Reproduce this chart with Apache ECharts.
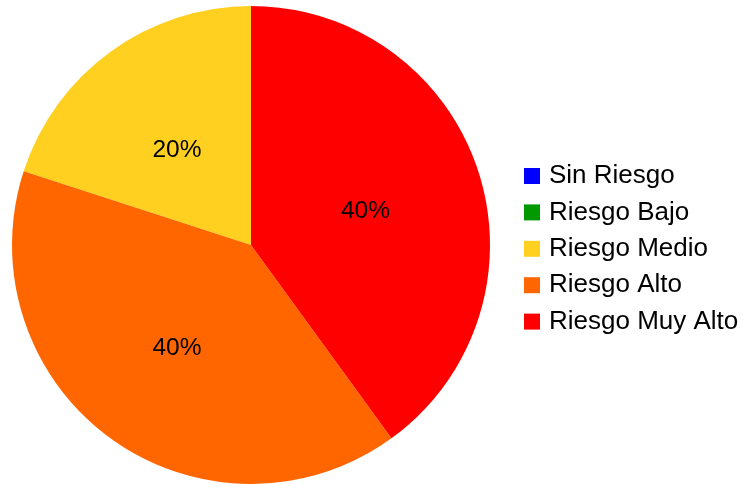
<!DOCTYPE html>
<html>
<head>
<meta charset="utf-8">
<script src="https://cdn.jsdelivr.net/npm/echarts@6/dist/echarts.min.js"></script>
<style>
  html, body { margin: 0; padding: 0; background: #fff; }
  #chart { width: 743px; height: 484px; }
</style>
</head>
<body>
<div id="chart"></div>
<script>
// Risk levels and their share of cases (percent)
const categories = ['Sin Riesgo', 'Riesgo Bajo', 'Riesgo Medio', 'Riesgo Alto', 'Riesgo Muy Alto'];
const values = [0, 0, 20, 40, 40];
const colors = ['#0000ff', '#009900', '#ffd020', '#ff6600', '#ff0000'];

const FONT = '"Liberation Sans", Arial, sans-serif';

const chart = echarts.init(document.getElementById('chart'));
chart.setOption({
  animation: false,
  color: colors,
  legend: {
    orient: 'vertical',
    left: 524,
    top: 163,
    padding: 0,
    itemWidth: 16,
    itemHeight: 16,
    itemGap: 10.4,
    icon: 'rect',
    textStyle: { fontFamily: FONT, fontSize: 26, color: '#000', padding: [0, 0, 0, 4] },
    data: categories
  },
  series: [{
    type: 'pie',
    center: [251, 245],
    radius: 239,
    startAngle: 90,
    clockwise: false,
    silent: true,
    label: {
      position: 'inside',
      fontFamily: FONT,
      fontSize: 24.5,
      color: '#000',
      offset: [-2, 4],
      formatter: p => p.value > 0 ? Math.round(p.percent) + '%' : ''
    },
    labelLine: { show: false },
    itemStyle: { borderWidth: 0 },
    data: categories.map((name, i) => ({ name, value: values[i] }))
  }]
});
</script>
</body>
</html>
